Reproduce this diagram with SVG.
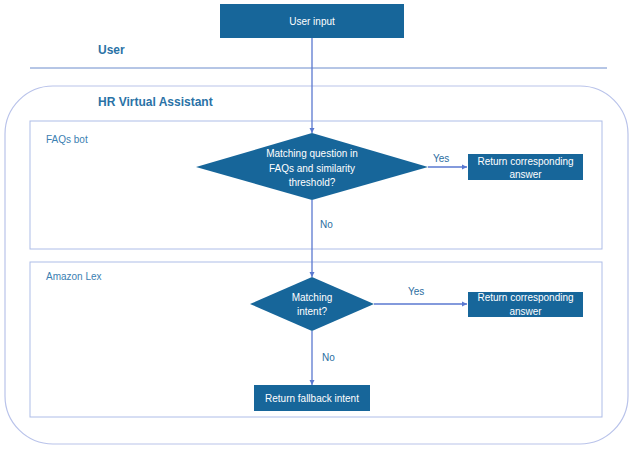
<svg xmlns="http://www.w3.org/2000/svg" width="633" height="449" viewBox="0 0 633 449">
<style>
text{font-family:"Liberation Sans",Arial,sans-serif}
.box{fill:#17669a}
.wt{fill:#ffffff;font-size:10px;text-anchor:middle}
.hd{fill:#2a72a6;font-size:12px;font-weight:bold}
.lb{fill:#3b80b2;font-size:10px}
.yn{fill:#2c6e9f;font-size:10px}
.frame{fill:none;stroke:#aebde8;stroke-width:1}
.conn{fill:none;stroke:#5a78d0;stroke-width:1.3}
</style>
<defs>
<marker id="arr" markerWidth="6" markerHeight="6" refX="5" refY="3" orient="auto" markerUnits="userSpaceOnUse">
<path d="M0,0.5 L5,3 L0,5.5 Z" fill="#5a78d0"/>
</marker>
</defs>
<rect width="633" height="449" fill="#ffffff"/>
<g id="lanes">
<text class="hd" x="98" y="54">User</text>
<line x1="30" y1="68" x2="607" y2="68" stroke="#6d8ccc" stroke-width="1"/>
<rect x="5" y="86" width="623" height="358" rx="48" ry="48" fill="none" stroke="#b9c3ea" stroke-width="1.2"/>
<text class="hd" x="98" y="106">HR Virtual Assistant</text>
<rect class="frame" x="30" y="121" width="572" height="128"/>
<text class="lb" x="46" y="143">FAQs bot</text>
<rect class="frame" x="30" y="262" width="572" height="155"/>
<text class="lb" x="46" y="280">Amazon Lex</text>
</g>
<g id="connectors">
<line class="conn" x1="312" y1="38" x2="312" y2="133" marker-end="url(#arr)"/>
<line class="conn" x1="428" y1="167" x2="467" y2="167" marker-end="url(#arr)"/>
<text class="yn" x="433" y="162">Yes</text>
<line class="conn" x1="312" y1="200" x2="312" y2="277" marker-end="url(#arr)"/>
<text class="yn" x="320" y="228">No</text>
<line class="conn" x1="374" y1="304" x2="467" y2="304" marker-end="url(#arr)"/>
<text class="yn" x="408" y="295">Yes</text>
<line class="conn" x1="312" y1="331" x2="312" y2="385" marker-end="url(#arr)"/>
<text class="yn" x="322" y="361">No</text>
</g>
<g id="user-input">
<rect class="box" x="220" y="4" width="184" height="34"/>
<text class="wt" x="312" y="24.5">User input</text>
</g>
<g id="faq-decision">
<polygon class="box" points="312,133 428,167 312,200 196,167"/>
<text class="wt" x="312" y="157">Matching question in</text>
<text class="wt" x="312" y="171.5">FAQs and similarity</text>
<text class="wt" x="312" y="186">threshold?</text>
</g>
<g id="faq-answer">
<rect class="box" x="468" y="154" width="115" height="26"/>
<text class="wt" x="525.5" y="165">Return corresponding</text>
<text class="wt" x="525.5" y="178">answer</text>
</g>
<g id="lex-decision">
<polygon class="box" points="312,277 374,304 312,331 250,304"/>
<text class="wt" x="312" y="300.5">Matching</text>
<text class="wt" x="312" y="315">intent?</text>
</g>
<g id="lex-answer">
<rect class="box" x="468" y="292" width="115" height="25"/>
<text class="wt" x="525.5" y="301">Return corresponding</text>
<text class="wt" x="525.5" y="314.5">answer</text>
</g>
<g id="fallback">
<rect class="box" x="254" y="385" width="116" height="26"/>
<text class="wt" x="312" y="401.5">Return fallback intent</text>
</g>
</svg>
